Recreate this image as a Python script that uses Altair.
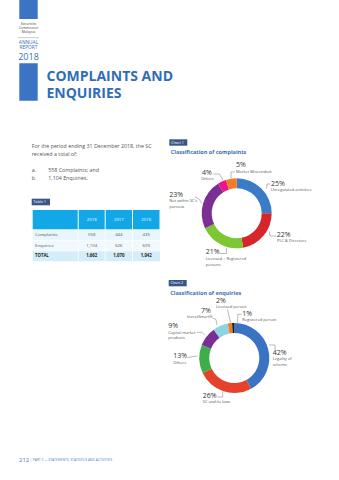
import altair as alt
import pandas as pd

# ---------------- data ----------------
years = ["2018", "2017", "2016"]
row_names = ["Complaints", "Enquiries", "TOTAL"]
complaints = ["558", "444", "435"]
enquiries = ["1,104", "626", "609"]
totals = ["1,662", "1,070", "1,042"]

comp_cats = ["Unregulated activities", "PLC & Directors", "Licensed + Registered persons",
             "Not within SC's purview", "Others", "Market Misconduct"]
comp_pct = [25, 22, 21, 23, 4, 5]
comp_colors = ["#3a7cc8", "#d6262c", "#7dc734", "#7c2e93", "#e8168b", "#f47b20"]

enq_cats = ["Legality of scheme", "SC and its laws", "Others", "Capital market products",
            "InvestSmart®", "Licensed person", "Registered person"]
enq_pct = [42, 26, 13, 9, 7, 2, 1]
enq_colors = ["#3a72c4", "#e5422b", "#3dae49", "#7a2f94", "#8dd4e2", "#f47b20", "#1a1a1a"]

# ---------------- helpers ----------------
FONT = "Open Sans"
BLUE = "#3470b9"
GREY = "#555555"
layers = []
one = alt.Data(values=[{"a": 1}])


def txt(s, x, y, size, color=GREY, weight="normal", align="left", font=FONT, lh=None):
    kw = dict(text=s, fontSize=size, color=color, fontWeight=weight, align=align,
              baseline="middle", font=font)
    if lh is not None:
        kw["lineHeight"] = lh
    layers.append(alt.Chart(one).mark_text(**kw).encode(x=alt.value(x), y=alt.value(y)))


def rect(x, y, x2, y2, color):
    layers.append(alt.Chart(one).mark_rect(color=color).encode(
        x=alt.value(x), x2=alt.value(x2), y=alt.value(y), y2=alt.value(y2)))


def rule(x, y, x2, y2, color="#777777", w=0.5):
    layers.append(alt.Chart(one).mark_rule(color=color, strokeWidth=w).encode(
        x=alt.value(x), x2=alt.value(x2), y=alt.value(y), y2=alt.value(y2)))


def path(pts):
    for (a, b), (c, d) in zip(pts[:-1], pts[1:]):
        rule(a, b, c, d)


# ---------------- header ----------------
rect(19.3, 0, 37.7, 19, "#3b73c5")
txt("Securities", 28.5, 24, 3.4, "#444", align="center")
txt("Commission", 28.5, 28.2, 3.4, "#444", align="center")
txt("Malaysia", 28.5, 32.3, 3.4, "#444", align="center")
rule(18, 37.7, 39, 37.7, "#999999", 0.5)
txt("ANNUAL", 28.5, 43.1, 4.8, BLUE, align="center")
txt("REPORT", 28.5, 48.3, 4.8, BLUE, align="center")
txt("2018", 28.5, 57.2, 9, BLUE, align="center")
rect(19.3, 63.3, 37.7, 100.7, "#3b73c5")
txt("COMPLAINTS AND", 46.5, 76.8, 14, "#2f6db8", weight="bold")
txt("ENQUIRIES", 46.5, 94.3, 14, "#2f6db8", weight="bold")

# ---------------- intro text ----------------
txt("For the period ending 31 December 2018, the SC", 31.7, 145.7, 5.3)
txt("received a total of:", 31.7, 154, 5.3)
txt("a.", 31.7, 169.7, 5.3)
txt(f"{complaints[0]} Complaints; and", 48.3, 169.7, 5.3)
txt("b.", 31.7, 177.7, 5.3)
txt(f"{enquiries[0]} Enquiries.", 48.3, 177.7, 5.3)

# ---------------- table ----------------
rect(31.7, 198.7, 50, 205.3, "#3a5686")
txt("Table 1", 33.2, 202.1, 3.8, "white")
col_edges = [32.7, 78.2, 105.2, 132.5, 160]
HDR = "#12a7e6"
rect(col_edges[0], 210, col_edges[1] - 0.5, 229.3, HDR)
for i in range(3):
    rect(col_edges[i + 1] + 0.5, 210, col_edges[i + 2] - 0.5, 229.3, HDR)
    txt(years[i], (col_edges[i + 1] + col_edges[i + 2]) / 2, 219.7, 4.3, "white", align="center")
row_y = [(230, 240.2), (240.7, 250.8), (251.3, 261.3)]
row_bg = ["#eaf6fd", "#f2f9fe", "#d4edf9"]
for r, (y0, y1) in enumerate(row_y):
    rect(col_edges[0], y0, col_edges[-1], y1, row_bg[r])
for i in range(3):
    rule(col_edges[i + 1], 230, col_edges[i + 1], 261.3, "white", 0.8)
rows = [complaints, enquiries, totals]
for r in range(3):
    yc = (row_y[r][0] + row_y[r][1]) / 2
    wt = "bold" if r == 2 else "normal"
    col = "#222" if r == 2 else GREY
    txt(row_names[r], 35, yc, 4.3, col, weight=wt)
    for i in range(3):
        txt(rows[r][i], (col_edges[i + 1] + col_edges[i + 2]) / 2, yc, 4.3, col,
            weight=wt, align="center")

# ---------------- chart 1 ----------------
rect(169.3, 139.3, 187.3, 145.7, "#3a5686")
txt("Chart 1", 171, 142.5, 3.8, "white")
txt("Classification of complaints", 170.7, 152.3, 5.5, "#3a6fb5", weight="bold")

df1 = pd.DataFrame({"cat": comp_cats, "pct": comp_pct, "ord": list(range(len(comp_cats)))})
donut1 = alt.Chart(df1).mark_arc(radius=35, radius2=25).encode(
    theta=alt.Theta("pct:Q", stack=True),
    color=alt.Color("cat:N", scale=alt.Scale(domain=comp_cats, range=comp_colors), legend=None),
    order=alt.Order("ord:Q"),
    x=alt.value(236.7), y=alt.value(213.3),
)
layers.append(donut1)

P = 7
L = 4
txt(f"{comp_pct[5]}%", 236, 165.3, P, "#333")
txt(comp_cats[5], 236, 172, L)
path([(235, 172), (231, 172), (231, 178.5)])
txt(f"{comp_pct[4]}%", 202, 173.3, P, "#333")
txt(comp_cats[4], 201, 179.3, L)
path([(213.5, 174), (219.5, 174), (223, 180.5)])
txt(f"{comp_pct[0]}%", 271, 183.7, P, "#333")
txt(comp_cats[0], 271, 190.3, L)
path([(270.5, 184), (267, 184), (266.5, 188.5)])
txt(f"{comp_pct[3]}%", 169.3, 194.7, P, "#333")
txt(["Not within SC's", "purview"], 169.3, 201, L, lh=5.7)
path([(195, 197), (199, 199), (202, 203.5)])
txt(f"{comp_pct[1]}%", 276.7, 234.7, P, "#333")
txt(comp_cats[1], 277, 240.7, L)
path([(269.5, 231.5), (270, 236), (276, 236)])
txt(f"{comp_pct[2]}%", 205.7, 252.3, P, "#333")
txt(["Licensed + Registered", "persons"], 205.7, 259, L, lh=6)
path([(219.5, 253.5), (226.5, 253.5), (226.5, 248)])

# ---------------- chart 2 ----------------
rect(168.7, 280, 186.7, 286.3, "#3a5686")
txt("Chart 2", 170.4, 283.2, 3.8, "white")
txt("Classification of enquiries", 170.3, 293, 5.5, "#3a6fb5", weight="bold")

df2 = pd.DataFrame({"cat": enq_cats, "pct": enq_pct, "ord": list(range(len(enq_cats)))})
donut2 = alt.Chart(df2).mark_arc(radius=35, radius2=25).encode(
    theta=alt.Theta("pct:Q", stack=True),
    color=alt.Color("cat:N", scale=alt.Scale(domain=enq_cats, range=enq_colors), legend=None),
    order=alt.Order("ord:Q"),
    x=alt.value(234.3), y=alt.value(358),
)
layers.append(donut2)

txt(f"{enq_pct[5]}%", 216, 301.3, P, "#333")
txt(enq_cats[5], 216, 307.3, L)
path([(227.5, 309.5), (230.5, 323)])
txt(f"{enq_pct[4]}%", 201, 311, P, "#333")
txt(enq_cats[4], 187, 317, L)
path([(212.5, 318), (216, 319.5), (217, 325)])
txt(f"{enq_pct[6]}%", 242.3, 313.7, P, "#333")
txt(enq_cats[6], 242.3, 320, L)
path([(241.5, 314.3), (237.7, 314.3), (237.7, 323.5)])
txt(f"{enq_pct[3]}%", 168.3, 326, P, "#333")
txt(["Capital market", "products"], 168.3, 332.7, L, lh=5.7)
path([(197, 332.3), (202, 332.3), (205, 335.3)])
txt(f"{enq_pct[0]}%", 272.7, 352.7, P, "#333")
txt(["Legality of", "scheme"], 272.7, 359, L, lh=5.7)
path([(269, 345), (275, 345), (275, 350)])
txt(f"{enq_pct[2]}%", 173.3, 356, P, "#333")
txt(enq_cats[2], 173.3, 362.7, L)
path([(187.5, 357.5), (197.5, 356)])
txt(f"{enq_pct[1]}%", 202.7, 395.7, P, "#333")
txt(enq_cats[1], 202.7, 402, L)
path([(217, 397), (222.7, 397), (222.7, 391.5)])

# ---------------- footer ----------------
txt("212", 19, 460, 6, "#4a7fc1")
txt("|  PART 5 — STATEMENTS, STATISTICS AND ACTIVITIES", 30, 460.3, 3.3, "#4a7fc1")

chart = alt.layer(*layers).resolve_scale(color="independent", theta="independent").properties(
    width=339, height=480, padding=0, autosize="none", background="white"
).configure_view(stroke=None)

chart.save("out.html", embed_options={"renderer": "svg", "actions": False})
